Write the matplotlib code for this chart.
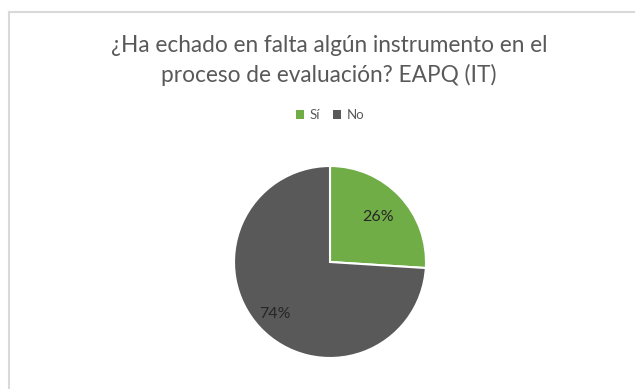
import numpy as np
import matplotlib.pyplot as plt
from matplotlib.lines import Line2D
from matplotlib.patches import Patch

labels = ["Sí", "No"]
values = [26, 74]
colors = ["#70AD47", "#595959"]

plt.rcParams['font.family'] = ['Lato', 'DejaVu Sans']

fig = plt.figure(figsize=(6.35, 3.89), dpi=100)
fig.patch.set_facecolor("white")

# light frame round the chart area
fig.add_artist(Line2D([9/635, 9/635], [0, 1 - 12/389], color="#d9d9d9", lw=1.5))
fig.add_artist(Line2D([9/635, 1], [1 - 12/389, 1 - 12/389], color="#d9d9d9", lw=1.5))

fig.text(0.518, 1 - 45/389, "¿Ha echado en falta algún instrumento en el",
         ha="center", va="center", fontsize=16.3, color="#595959")
fig.text(0.518, 1 - 75/389, "proceso de evaluación? EAPQ (IT)",
         ha="center", va="center", fontsize=16.3, color="#595959")

ax = fig.add_axes([(330 - 96) / 635, (389 - 358) / 389, 192 / 635, 192 / 389])
wedges, _ = ax.pie(values, colors=colors, startangle=90, counterclock=False,
                   radius=1, wedgeprops=dict(edgecolor="white", linewidth=1.5))
ax.set_xlim(-1.0, 1.0)
ax.set_ylim(-1.0, 1.0)
ax.set_aspect("equal")
ax.axis("off")

# percentage labels at each wedge's middle angle
dists = [0.68, 0.79]
for w, v, d in zip(wedges, values, dists):
    ang = np.deg2rad((w.theta1 + w.theta2) / 2)
    ax.text(d * np.cos(ang), d * np.sin(ang), f"{v}%", ha="center", va="center",
            fontsize=11.5, color="#262626")

handles = [Patch(facecolor=c, edgecolor="none") for c in colors]
fig.legend(handles, labels, loc="center", bbox_to_anchor=(0.52, 1 - 115/389),
           ncol=2, frameon=False, fontsize=9.5, handlelength=0.6, handleheight=0.6,
           handletextpad=0.4, columnspacing=1.0, labelcolor="#595959")

fig.savefig("out.png", dpi=100)
